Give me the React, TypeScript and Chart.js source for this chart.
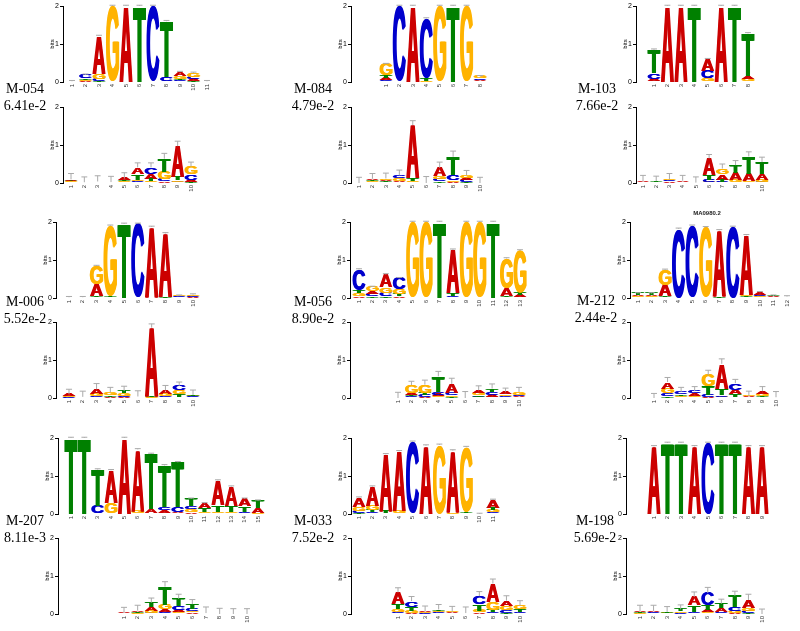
import React, { useEffect, useRef } from "react";
import { Chart, registerables } from "chart.js";

Chart.register(...registerables);

// ---------------- data (bits per letter, per position) ----------------
// M-054
const m054TopA = [0.005, 0.03, 1.0, 0, 2.0, 0, 0, 0, 0.1, 0.05, 0.005];
const m054TopC = [0.005, 0.09, 0.06, 0, 0, 0, 2.0, 0.1, 0.04, 0.06, 0.005];
const m054TopG = [0.005, 0.03, 0.12, 2.0, 0, 0, 0, 0.02, 0.08, 0.1, 0.005];
const m054TopT = [0.005, 0.04, 0.03, 0, 0, 2.0, 0, 1.48, 0.04, 0.03, 0.005];
const m054BotA = [0.04, 0.005, 0.01, 0.01, 0.05, 0.18, 0.14, 0.04, 0.8, 0.05];
const m054BotC = [0.02, 0.005, 0.01, 0.005, 0.02, 0.04, 0.17, 0.05, 0.03, 0.15];
const m054BotG = [0.02, 0.005, 0.01, 0.005, 0.02, 0.04, 0.05, 0.2, 0.04, 0.2];
const m054BotT = [0.02, 0.005, 0.01, 0.005, 0.03, 0.15, 0.05, 0.35, 0.1, 0.03];
const m054BotErr = [0.15, 0.14, 0.15, 0.15, 0.15, 0.12, 0.12, 0.14, 0.13, 0.12];

// M-084
const m084TopA = [0.06, 0, 2.0, 0.01, 0, 0, 0, 0.04];
const m084TopC = [0.04, 2.0, 0, 1.57, 0, 0, 0, 0.04];
const m084TopG = [0.3, 0, 0, 0.02, 2.0, 0, 2.0, 0.05];
const m084TopT = [0.07, 0, 0, 0.07, 0, 2.0, 0, 0.02];
const m084BotA = [0, 0.04, 0.04, 0.04, 1.4, 0, 0.22, 0.03, 0.06, 0];
const m084BotC = [0, 0.02, 0.02, 0.08, 0.02, 0, 0.06, 0.15, 0.05, 0];
const m084BotG = [0, 0.02, 0.04, 0.06, 0.02, 0, 0.08, 0.04, 0.06, 0];
const m084BotT = [0, 0.03, 0.02, 0.02, 0.08, 0, 0.04, 0.47, 0.03, 0];
const m084BotErr = [0.15, 0.14, 0.14, 0.14, 0.12, 0.17, 0.15, 0.15, 0.13, 0.15];

// M-103
const m103TopA = [0.06, 2.0, 2.0, 0, 0.3, 2.0, 0, 0.08];
const m103TopC = [0.15, 0, 0, 0, 0.2, 0, 0, 0.02];
const m103TopG = [0.02, 0, 0, 0, 0.08, 0, 0, 0.06];
const m103TopT = [0.62, 0, 0, 2.0, 0.02, 0, 2.0, 1.12];
const m103BotA = [0.02, 0.01, 0.03, 0.03, 0.005, 0.45, 0.15, 0.2, 0.2, 0.17];
const m103BotC = [0.01, 0.01, 0.03, 0.01, 0.005, 0.05, 0.03, 0.02, 0.02, 0.03];
const m103BotG = [0.01, 0.01, 0.03, 0.01, 0, 0.03, 0.15, 0.05, 0.03, 0.05];
const m103BotT = [0.01, 0.02, 0.01, 0.01, 0, 0.12, 0.05, 0.2, 0.45, 0.3];
const m103BotErr = [0.15, 0.13, 0.15, 0.14, 0.15, 0.1, 0.12, 0.12, 0.12, 0.13];

// M-006
const m006TopA = [0.005, 0.005, 0.32, 0.02, 0, 0, 1.87, 1.67, 0.01, 0.02];
const m006TopC = [0.005, 0.005, 0.02, 0, 0, 1.95, 0, 0, 0.02, 0.02];
const m006TopG = [0.005, 0.005, 0.48, 1.85, 0, 0, 0, 0, 0.02, 0.04];
const m006TopT = [0.005, 0.005, 0.02, 0.03, 1.95, 0, 0, 0.03, 0.01, 0.01];
const m006BotA = [0.05, 0.01, 0.13, 0.02, 0.03, 0.01, 1.8, 0.1, 0.02, 0.02];
const m006BotC = [0.02, 0.01, 0.03, 0.01, 0.03, 0.01, 0.01, 0.03, 0.12, 0.02];
const m006BotG = [0.02, 0.005, 0.05, 0.08, 0.06, 0.01, 0.02, 0.05, 0.1, 0.02];
const m006BotT = [0.01, 0.005, 0.02, 0.04, 0.06, 0.01, 0.02, 0.02, 0.08, 0.02];
const m006BotErr = [0.13, 0.15, 0.15, 0.13, 0.13, 0.15, 0.1, 0.13, 0.1, 0.13];

// M-056
const m056TopA = [0.06, 0.07, 0.33, 0.04, 0, 0, 0, 1.15, 0, 0, 0, 0.2, 0.05];
const m056TopC = [0.55, 0.06, 0.1, 0.3, 0, 0, 0, 0.04, 0, 0, 0, 0.02, 0.02];
const m056TopG = [0.06, 0.12, 0.15, 0.12, 2.0, 2.0, 0, 0.02, 2.0, 2.0, 0, 0.78, 1.1];
const m056TopT = [0.08, 0.04, 0.04, 0.06, 0, 0, 2.0, 0.06, 0, 0, 2.0, 0.04, 0.08];
const m056BotA = [0, 0.06, 0.03, 0.05, 0.25, 0, 0.08, 0.06, 0.06, 0.03];
const m056BotC = [0, 0.04, 0.05, 0.08, 0.05, 0, 0.03, 0.08, 0.04, 0.04];
const m056BotG = [0, 0.2, 0.22, 0.04, 0.04, 0, 0.05, 0.03, 0.04, 0.07];
const m056BotT = [0, 0.04, 0.05, 0.4, 0.03, 0, 0.04, 0.08, 0.02, 0.02];
const m056BotErr = [0.15, 0.1, 0.12, 0.13, 0.15, 0.17, 0.12, 0.12, 0.1, 0.12];

// M-212
const m212TopA = [0.03, 0.03, 0.3, 0, 0, 0, 1.75, 0, 1.57, 0.06, 0.02, 0.01];
const m212TopC = [0.02, 0.02, 0.02, 1.82, 1.9, 0, 0, 1.87, 0.02, 0.04, 0.01, 0.01];
const m212TopG = [0.02, 0.02, 0.4, 0, 0, 1.84, 0, 0, 0.04, 0.03, 0.01, 0.01];
const m212TopT = [0.05, 0.05, 0.02, 0, 0, 0.02, 0.03, 0, 0.02, 0.02, 0.02, 0.01];
const m212BotA = [0, 0.18, 0.02, 0.06, 0.03, 0.65, 0.12, 0.02, 0.08, 0.005];
const m212BotC = [0, 0.08, 0.06, 0.06, 0.05, 0.04, 0.17, 0.01, 0.02, 0.005];
const m212BotG = [0, 0.12, 0.04, 0.04, 0.3, 0.03, 0.02, 0.02, 0.06, 0.005];
const m212BotT = [0, 0.04, 0.04, 0.02, 0.22, 0.18, 0.08, 0.01, 0.02, 0.005];
const m212BotErr = [0.12, 0.12, 0.12, 0.12, 0.13, 0.13, 0.1, 0.12, 0.12, 0.15];

// M-207
const m207TopA = [0, 0, 0.02, 0.85, 2.0, 1.62, 0.1, 0.08, 0.04, 0.06, 0.12, 0.65, 0.5, 0.2, 0.12];
const m207TopC = [0, 0, 0.2, 0.02, 0, 0.02, 0.02, 0.08, 0.12, 0.08, 0.02, 0.02, 0.02, 0.03, 0.01];
const m207TopG = [0, 0, 0, 0.28, 0, 0.06, 0, 0.02, 0.02, 0.06, 0.04, 0.03, 0.03, 0.02, 0.02];
const m207TopT = [2.0, 2.0, 0.95, 0, 0, 0, 1.46, 1.1, 1.18, 0.2, 0.1, 0.18, 0.17, 0.15, 0.2];
const m207BotA = [0.02, 0.04, 0.1, 0.08, 0.06, 0.04, 0.01, 0, 0, 0];
const m207BotC = [0.005, 0.01, 0.03, 0.05, 0.1, 0.06, 0.005, 0, 0, 0];
const m207BotG = [0.005, 0.02, 0.05, 0.12, 0.04, 0.04, 0.005, 0, 0, 0];
const m207BotT = [0.005, 0.02, 0.12, 0.47, 0.2, 0.12, 0.005, 0, 0, 0];
const m207BotErr = [0.14, 0.14, 0.12, 0.13, 0.12, 0.12, 0.16, 0.15, 0.14, 0.14];

// M-033
const m033TopA = [0.25, 0.5, 1.5, 1.58, 0, 1.8, 0, 1.62, 0.02, 0, 0.2];
const m033TopC = [0.05, 0.04, 0.02, 0.02, 1.9, 0, 0, 0, 0, 0, 0.05];
const m033TopG = [0.1, 0.12, 0, 0.05, 0, 0, 1.82, 0.04, 1.7, 0, 0.06];
const m033TopT = [0.03, 0.06, 0.05, 0, 0, 0, 0, 0.01, 0.04, 0, 0.06];
const m033BotA = [0.3, 0.03, 0.03, 0.02, 0.02, 0.01, 0.04, 0.48, 0.14, 0.02];
const m033BotC = [0.04, 0.15, 0.02, 0.02, 0.01, 0.005, 0.2, 0.05, 0.08, 0.04];
const m033BotG = [0.08, 0.06, 0.02, 0.04, 0.02, 0.005, 0.05, 0.22, 0.1, 0.1];
const m033BotT = [0.15, 0.1, 0.01, 0.04, 0.01, 0.005, 0.18, 0.05, 0.03, 0.06];
const m033BotErr = [0.12, 0.12, 0.13, 0.13, 0.14, 0.16, 0.12, 0.12, 0.13, 0.13];

// M-198
const m198TopA = [1.78, 0, 0, 1.78, 0, 0, 0, 1.78, 1.78];
const m198TopC = [0, 0, 0, 0, 1.87, 0, 0, 0, 0];
const m198TopG = [0, 0, 0, 0, 0, 0, 0, 0, 0];
const m198TopT = [0, 1.87, 1.87, 0, 0, 1.87, 1.87, 0, 0];
const m198BotA = [0.03, 0.04, 0.005, 0.01, 0.22, 0.06, 0.1, 0.03, 0.2, 0];
const m198BotC = [0.01, 0.02, 0.01, 0.02, 0.03, 0.33, 0.03, 0.1, 0.06, 0];
const m198BotG = [0.02, 0.01, 0.02, 0.04, 0.02, 0.04, 0.02, 0.05, 0.08, 0];
const m198BotT = [0.02, 0.01, 0.02, 0.05, 0.18, 0.12, 0.12, 0.3, 0.03, 0];
const m198BotErr = [0.15, 0.15, 0.14, 0.12, 0.13, 0.15, 0.12, 0.12, 0.15, 0.13];

const motifNames = ["M-054", "M-084", "M-103", "M-006", "M-056", "M-212", "M-207", "M-033", "M-198"];
const pValues = ["6.41e-2", "4.79e-2", "7.66e-2", "5.52e-2", "8.90e-2", "2.44e-2", "8.11e-3", "7.52e-2", "5.69e-2"];
const yTickValues = [0, 1, 2];

// ---------------- styles / layout ----------------
const LETTER_COLORS: Record<string, string> = { A: "#CC0000", C: "#0000CC", G: "#FFB300", T: "#008000" };
const LETTER_FONT = 'bold 100px "Liberation Sans", Arial, sans-serif';
const BOLD_SHIFT = 0.6;
const TOP_ERR = 0.02;
const AXIS_W = 14;
const PAD_TOP = 6;
const XAXIS_H = 12;

type Lay = { axisX: number; y2: number; y0: number; p1: number; pN: number };

type LogoDef = {
  A: number[]; C: number[]; G: number[]; T: number[];
  err: number[] | null; lay: Lay;
};

const logos: LogoDef[] = [
  { A: m054TopA, C: m054TopC, G: m054TopG, T: m054TopT, err: null, lay: { axisX: 63, y2: 6, y0: 82, p1: 72, pN: 207 } },
  { A: m054BotA, C: m054BotC, G: m054BotG, T: m054BotT, err: m054BotErr, lay: { axisX: 63, y2: 107, y0: 183, p1: 71, pN: 191 } },
  { A: m084TopA, C: m084TopC, G: m084TopG, T: m084TopT, err: null, lay: { axisX: 351, y2: 6, y0: 82, p1: 386, pN: 480 } },
  { A: m084BotA, C: m084BotC, G: m084BotG, T: m084BotT, err: m084BotErr, lay: { axisX: 351, y2: 107, y0: 183, p1: 359, pN: 480 } },
  { A: m103TopA, C: m103TopC, G: m103TopG, T: m103TopT, err: null, lay: { axisX: 636, y2: 6, y0: 82, p1: 654, pN: 748 } },
  { A: m103BotA, C: m103BotC, G: m103BotG, T: m103BotT, err: m103BotErr, lay: { axisX: 636, y2: 107, y0: 183, p1: 643, pN: 762 } },
  { A: m006TopA, C: m006TopC, G: m006TopG, T: m006TopT, err: null, lay: { axisX: 56, y2: 222, y0: 298, p1: 69, pN: 193 } },
  { A: m006BotA, C: m006BotC, G: m006BotG, T: m006BotT, err: m006BotErr, lay: { axisX: 56, y2: 322, y0: 398, p1: 69, pN: 193 } },
  { A: m056TopA, C: m056TopC, G: m056TopG, T: m056TopT, err: null, lay: { axisX: 350, y2: 222, y0: 298, p1: 359, pN: 520 } },
  { A: m056BotA, C: m056BotC, G: m056BotG, T: m056BotT, err: m056BotErr, lay: { axisX: 350, y2: 322, y0: 398, p1: 398, pN: 519 } },
  { A: m212TopA, C: m212TopC, G: m212TopG, T: m212TopT, err: null, lay: { axisX: 630, y2: 222, y0: 298, p1: 638, pN: 787 } },
  { A: m212BotA, C: m212BotC, G: m212BotG, T: m212BotT, err: m212BotErr, lay: { axisX: 630, y2: 322, y0: 398, p1: 654, pN: 776 } },
  { A: m207TopA, C: m207TopC, G: m207TopG, T: m207TopT, err: null, lay: { axisX: 58, y2: 438, y0: 514, p1: 71, pN: 258 } },
  { A: m207BotA, C: m207BotC, G: m207BotG, T: m207BotT, err: m207BotErr, lay: { axisX: 58, y2: 538, y0: 614, p1: 124, pN: 247 } },
  { A: m033TopA, C: m033TopC, G: m033TopG, T: m033TopT, err: null, lay: { axisX: 351, y2: 438, y0: 514, p1: 359, pN: 493 } },
  { A: m033BotA, C: m033BotC, G: m033BotG, T: m033BotT, err: m033BotErr, lay: { axisX: 351, y2: 538, y0: 614, p1: 398, pN: 520 } },
  { A: m198TopA, C: m198TopC, G: m198TopG, T: m198TopT, err: null, lay: { axisX: 626, y2: 438, y0: 514, p1: 654, pN: 762 } },
  { A: m198BotA, C: m198BotC, G: m198BotG, T: m198BotT, err: m198BotErr, lay: { axisX: 626, y2: 538, y0: 614, p1: 640, pN: 762 } },
];

// label block centre x and first baseline y for each panel
const labelPos = [
  { cx: 25, base: 92.7 }, { cx: 313, base: 93 }, { cx: 597, base: 92.7 },
  { cx: 25, base: 305.7 }, { cx: 313, base: 305.7 }, { cx: 596, base: 305.5 },
  { cx: 25, base: 525 }, { cx: 313, base: 525 }, { cx: 595, base: 525 },
];

function drawLetter(ctx: CanvasRenderingContext2D, ch: string, x0: number, yTop: number, w: number, h: number) {
  ctx.save();
  ctx.font = LETTER_FONT;
  ctx.textAlign = "left";
  ctx.textBaseline = "alphabetic";
  ctx.fillStyle = LETTER_COLORS[ch];
  const m = ctx.measureText(ch);
  const gw = m.actualBoundingBoxLeft + m.actualBoundingBoxRight;
  const gh = m.actualBoundingBoxAscent + m.actualBoundingBoxDescent;
  // faux-bold: draw a few horizontally shifted copies within the same box
  const shift = w > 6 ? BOLD_SHIFT : 0;
  const innerW = w - 2 * shift;
  for (const dx of shift ? [0, shift, 2 * shift] : [0]) {
    ctx.save();
    ctx.translate(x0 + dx, yTop);
    ctx.scale(innerW / gw, h / gh);
    ctx.fillText(ch, m.actualBoundingBoxLeft, m.actualBoundingBoxAscent);
    ctx.restore();
  }
  ctx.restore();
}

function Logo({ def }: { def: LogoDef }) {
  const ref = useRef<HTMLCanvasElement>(null);
  const { lay } = def;
  const n = def.A.length;
  const s = (lay.pN - lay.p1) / (n - 1);
  const areaW = Math.round(lay.pN - lay.axisX + s * 0.85);
  const cw = AXIS_W + areaW;
  const ch = PAD_TOP + (lay.y0 - lay.y2) + XAXIS_H;
  const left = lay.axisX - AXIS_W;
  const top = lay.y2 - PAD_TOP;

  useEffect(() => {
    const canvas = ref.current!;
    const letters = ["A", "C", "G", "T"];
    const cols: Record<string, number[]> = { A: def.A, C: def.C, G: def.G, T: def.T };
    const ranked = [0, 1, 2, 3].map(() => ({ data: [] as { x: number; y: number }[], letters: [] as string[] }));
    const totals: number[] = [];
    for (let i = 0; i < n; i++) {
      const order = letters.map((L) => ({ L, v: cols[L][i] })).sort((a, b) => a.v - b.v);
      order.forEach((o, k) => {
        ranked[k].data.push({ x: i + 1, y: o.v });
        ranked[k].letters.push(o.L);
      });
      totals.push(order.reduce((acc, o) => acc + o.v, 0));
    }
    const positions = Array.from({ length: n }, (_, i) => i + 1);
    const xMin = 1 - (lay.p1 - lay.axisX) / s;
    const xMax = xMin + areaW / s;

    const logoPlugin = {
      id: "logoLetters",
      afterDatasetsDraw(chart: any) {
        const ctx: CanvasRenderingContext2D = chart.ctx;
        const yS = chart.scales.y;
        let barW = 10;
        const xs: number[] = [];
        chart.data.datasets.forEach((ds: any, d: number) => {
          const meta = chart.getDatasetMeta(d);
          meta.data.forEach((el: any, i: number) => {
            const p = el.getProps(["x", "y", "base", "width"], true);
            barW = p.width;
            xs[i] = p.x;
            const h = p.base - p.y;
            if (h < 0.25) return;
            drawLetter(ctx, ds.letters[i], p.x - p.width / 2, p.y, p.width, h);
          });
        });
        ctx.save();
        ctx.strokeStyle = "#aaaaaa";
        ctx.lineWidth = 1;
        for (let i = 0; i < n; i++) {
          const e = def.err ? def.err[i] : TOP_ERR;
          const yT = yS.getPixelForValue(totals[i] + e);
          const yB = yS.getPixelForValue(totals[i]);
          const cap = barW * 0.45;
          ctx.beginPath();
          ctx.moveTo(xs[i], yB);
          ctx.lineTo(xs[i], yT);
          ctx.moveTo(xs[i] - cap / 2, yT);
          ctx.lineTo(xs[i] + cap / 2, yT);
          ctx.stroke();
        }
        ctx.restore();
      },
    };

    const chart = new Chart(canvas, {
      type: "bar",
      data: {
        datasets: ranked.map((r, k) => ({
          label: "rank" + k,
          data: r.data,
          letters: r.letters,
          backgroundColor: "rgba(0,0,0,0)",
          borderWidth: 0,
          categoryPercentage: 1,
          barPercentage: 0.98,
        })) as any,
      },
      options: {
        responsive: false,
        animation: false,
        events: [],
        layout: { padding: { top: PAD_TOP, left: 0, right: 0, bottom: 0 } },
        plugins: { legend: { display: false }, tooltip: { enabled: false }, title: { display: false } },
        scales: {
          x: {
            type: "linear",
            stacked: true,
            min: xMin,
            max: xMax,
            offset: false,
            afterBuildTicks: (sc: any) => {
              sc.ticks = positions.map((v) => ({ value: v }));
            },
            afterFit: (sc: any) => {
              sc.height = XAXIS_H;
            },
            grid: { display: false, drawTicks: false },
            border: { display: false },
            ticks: {
              font: { size: 6, family: '"Liberation Sans", Arial, sans-serif' },
              color: "#333",
              minRotation: 90,
              maxRotation: 90,
              autoSkip: false,
              padding: 2,
              callback: (v: any) => String(v),
            },
          },
          y: {
            stacked: true,
            min: 0,
            max: 2,
            afterBuildTicks: (sc: any) => {
              sc.ticks = yTickValues.map((v) => ({ value: v }));
            },
            afterFit: (sc: any) => {
              sc.width = AXIS_W;
            },
            grid: { display: true, drawOnChartArea: false, drawTicks: true, tickLength: 3, color: "#000", lineWidth: 1 },
            border: { display: true, color: "#000", width: 1 },
            ticks: { font: { size: 7, family: '"Liberation Sans", Arial, sans-serif' }, color: "#000", padding: 1 },
            title: { display: true, text: "bits", font: { size: 6, family: '"Liberation Sans", Arial, sans-serif' }, color: "#000", padding: 0 },
          },
        },
      } as any,
      plugins: [logoPlugin],
    });
    return () => chart.destroy();
  }, []);

  return (
    <canvas
      ref={ref}
      width={cw}
      height={ch}
      style={{ position: "absolute", left, top, width: cw, height: ch }}
    />
  );
}

export default function App() {
  return (
    <div style={{ position: "absolute", left: 0, top: 0, width: 800, height: 631, background: "#fff", overflow: "hidden" }}>
      {logos.map((d, i) => (
        <Logo key={i} def={d} />
      ))}
      {motifNames.map((name, i) => (
        <div
          key={name}
          style={{
            position: "absolute",
            left: labelPos[i].cx - 45,
            width: 90,
            top: labelPos[i].base - 13.2,
            textAlign: "center",
            fontFamily: '"Liberation Serif", "Times New Roman", serif',
            fontSize: 14,
            lineHeight: "17px",
            color: "#000",
            whiteSpace: "nowrap",
          }}
        >
          <div>{name}</div>
          <div>{pValues[i]}</div>
        </div>
      ))}
      <div
        style={{
          position: "absolute",
          left: 667,
          width: 80,
          top: 209,
          textAlign: "center",
          fontFamily: '"Liberation Sans", Arial, sans-serif',
          fontWeight: "bold",
          fontSize: 6,
          lineHeight: "8px",
          color: "#222",
        }}
      >
        MA0980.2
      </div>
    </div>
  );
}
